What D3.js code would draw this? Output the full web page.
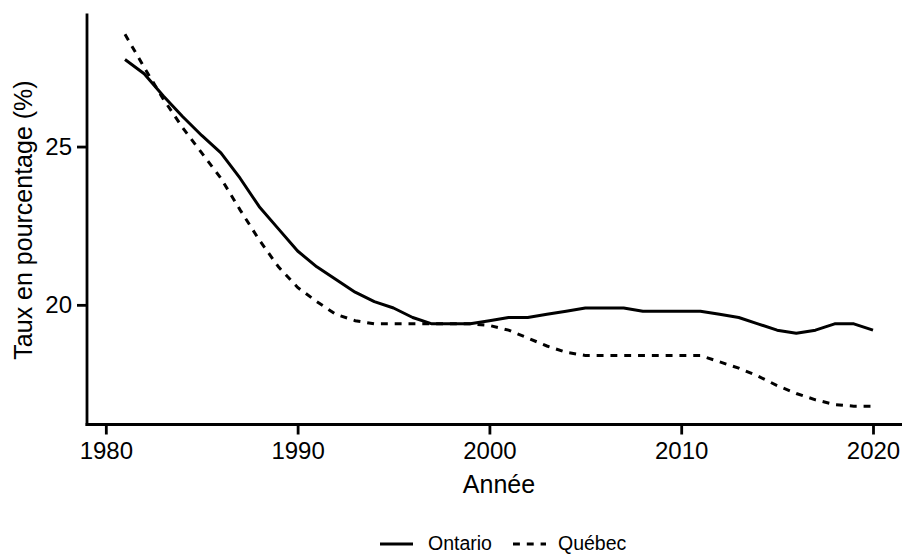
<!DOCTYPE html>
<html>
<head>
<meta charset="utf-8">
<script src="https://cdn.jsdelivr.net/npm/d3@7"></script>
<style>
  html, body { margin: 0; padding: 0; background: #fff; }
  svg { display: block; font-family: "Liberation Sans", Arial, sans-serif; }
</style>
</head>
<body>
<svg id="chart" width="902" height="554"></svg>
<script>
const years = d3.range(1981, 2021);
const ontario = [27.75, 27.3, 26.6, 25.95, 25.35, 24.8, 24.0, 23.1, 22.4, 21.7,
                 21.2, 20.8, 20.4, 20.1, 19.9, 19.6, 19.4, 19.4, 19.4, 19.5,
                 19.6, 19.6, 19.7, 19.8, 19.9, 19.9, 19.9, 19.8, 19.8, 19.8,
                 19.8, 19.7, 19.6, 19.4, 19.2, 19.1, 19.2, 19.4, 19.4, 19.2];
const quebec = [28.55, 27.5, 26.5, 25.6, 24.8, 24.0, 23.0, 22.05, 21.2, 20.55,
                20.1, 19.7, 19.5, 19.4, 19.4, 19.4, 19.4, 19.4, 19.4, 19.35,
                19.2, 18.95, 18.7, 18.5, 18.4, 18.4, 18.4, 18.4, 18.4, 18.4,
                18.4, 18.2, 18.0, 17.75, 17.45, 17.2, 17.0, 16.85, 16.8, 16.8];
const xTicks = [1980, 1990, 2000, 2010, 2020];
const yTicks = [20, 25];
const seriesNames = ["Ontario", "Québec"];
const xTitle = "Année";
const yTitle = "Taux en pourcentage (%)";

const svg = d3.select("#chart");
const x = d3.scaleLinear().domain([1979.05, 2021.95]).range([87.6, 910.4]);
const y = d3.scaleLinear().domain([16.22, 29.2]).range([424.5, 13.6]);

const axisX = 87, axisY = 424.5;

// lines
const line = d3.line().x((d, i) => x(years[i])).y(d => y(d));
svg.append("path").datum(ontario).attr("d", line)
  .attr("fill", "none").attr("stroke", "#000").attr("stroke-width", 3)
  .attr("stroke-linejoin", "round");
svg.append("path").datum(quebec).attr("d", line)
  .attr("fill", "none").attr("stroke", "#000").attr("stroke-width", 3)
  .attr("stroke-dasharray", "6.9,6.9");

// x axis
const gx = svg.append("g").attr("transform", `translate(0,${axisY})`)
  .call(d3.axisBottom(x).tickValues(xTicks).tickFormat(d3.format("d")).tickSize(10).tickPadding(7));
gx.select(".domain").remove();
gx.selectAll(".tick line").attr("stroke", "#000").attr("stroke-width", 2.8);
gx.selectAll(".tick text").attr("font-size", 24).attr("fill", "#000")
  .attr("font-family", "'Liberation Sans', Arial, sans-serif");
svg.append("line").attr("x1", axisX - 1.4).attr("x2", 902).attr("y1", axisY).attr("y2", axisY)
  .attr("stroke", "#000").attr("stroke-width", 2.8);

// y axis
const gy = svg.append("g").attr("transform", `translate(${axisX},0)`)
  .call(d3.axisLeft(y).tickValues(yTicks).tickSize(10).tickPadding(5));
gy.select(".domain").remove();
gy.selectAll(".tick line").attr("stroke", "#000").attr("stroke-width", 2.8);
gy.selectAll(".tick text").attr("font-size", 24).attr("fill", "#000")
  .attr("font-family", "'Liberation Sans', Arial, sans-serif");
svg.append("line").attr("x1", axisX).attr("x2", axisX).attr("y1", y(29.2)).attr("y2", axisY + 1.4)
  .attr("stroke", "#000").attr("stroke-width", 2.8);

// titles
svg.append("text").attr("x", 499).attr("y", 492.5).attr("text-anchor", "middle")
  .attr("font-size", 25).attr("fill", "#000").text(xTitle);
svg.append("text").attr("transform", "translate(31.7,220) rotate(-90)")
  .attr("text-anchor", "middle").attr("font-size", 25).attr("fill", "#000").text(yTitle);

// legend
const legY = 544;
const leg = [
  { name: seriesNames[0], x0: 380, x1: 413, tx: 428, dash: null },
  { name: seriesNames[1], x0: 513, x1: 546, tx: 558, dash: "6.9,6.9" }
];
leg.forEach(l => {
  const ln = svg.append("line").attr("x1", l.x0).attr("x2", l.x1).attr("y1", legY).attr("y2", legY)
    .attr("stroke", "#000").attr("stroke-width", 3);
  if (l.dash) ln.attr("stroke-dasharray", l.dash);
  svg.append("text").attr("x", l.tx).attr("y", legY + 5.8).attr("font-size", 19.5)
    .attr("fill", "#000").text(l.name);
});
</script>
</body>
</html>
